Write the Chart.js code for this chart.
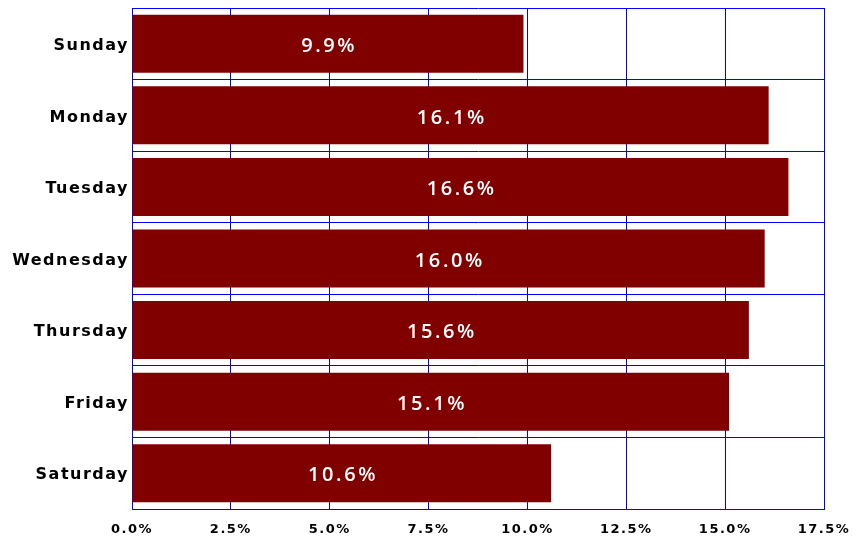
<!DOCTYPE html>
<html>
<head>
<meta charset="utf-8">
<script src="https://cdn.jsdelivr.net/npm/chart.js@4/dist/chart.umd.min.js"></script>
<style>
  html, body { margin: 0; padding: 0; background: #ffffff; }
  #wrap { width: 859px; height: 539px; }
</style>
</head>
<body>
<div id="wrap"><canvas id="c" width="859" height="539"></canvas></div>
<script>
const categories = ['Sunday', 'Monday', 'Tuesday', 'Wednesday', 'Thursday', 'Friday', 'Saturday'];
const shareValues = [9.9, 16.1, 16.6, 16.0, 15.6, 15.1, 10.6];
const xTickValues = [0, 2.5, 5, 7.5, 10, 12.5, 15, 17.5];

const AXIS_FONT = '"DejaVu Sans", sans-serif';
const VALUE_FONT = '"Open Sans", "DejaVu Sans", sans-serif';

const spacingPlugin = {
  id: 'spacing',
  beforeUpdate(chart) { chart.ctx.letterSpacing = '1.5px'; },
  beforeDraw(chart) { chart.ctx.letterSpacing = '1.5px'; }
};

const valueLabels = {
  id: 'valueLabels',
  afterDatasetsDraw(chart) {
    const ctx = chart.ctx;
    const meta = chart.getDatasetMeta(0);
    ctx.save();
    ctx.letterSpacing = '2.6px';
    ctx.fillStyle = '#ffffff';
    ctx.font = '600 20px ' + VALUE_FONT;
    ctx.textAlign = 'center';
    ctx.textBaseline = 'middle';
    meta.data.forEach((bar, i) => {
      const x0 = chart.scales.x.getPixelForValue(0);
      const cx = (x0 + bar.x) / 2;
      ctx.fillText(shareValues[i].toFixed(1) + '%', cx + 1.5, bar.y + 2.5);
    });
    ctx.restore();
  }
};

new Chart(document.getElementById('c'), {
  type: 'bar',
  data: {
    labels: categories,
    datasets: [{
      data: shareValues,
      backgroundColor: '#800000',
      borderWidth: 0,
      categoryPercentage: 0.9,
      barPercentage: 0.9
    }]
  },
  options: {
    indexAxis: 'y',
    responsive: false,
    animation: false,
    devicePixelRatio: 1,
    layout: { padding: { left: 0, right: 35, top: 8, bottom: 0 } },
    plugins: {
      legend: { display: false },
      tooltip: { enabled: false },
      title: { display: false }
    },
    scales: {
      x: {
        type: 'linear',
        min: 0,
        max: 17.5,
        afterBuildTicks(scale) { scale.ticks = xTickValues.map(v => ({ value: v })); },
        afterFit(scale) { scale.height = 30; },
        grid: { color: '#0000ff', lineWidth: 1, drawTicks: true, tickLength: 14, tickColor: 'rgba(0,0,0,0)' },
        border: { color: '#0000ff', width: 1 },
        ticks: {
          padding: 0,
          color: '#000000',
          font: { family: AXIS_FONT, size: 13, weight: 'bold', lineHeight: 1 },
          callback: v => v.toFixed(1) + '%',
          maxRotation: 0
        }
      },
      y: {
        afterFit(scale) { scale.width = 132; },
        grid: { color: '#0000ff', lineWidth: 1, drawTicks: true, tickLength: 3, tickColor: 'rgba(0,0,0,0)', offset: true },
        border: { color: '#0000ff', width: 1 },
        ticks: {
          padding: 0,
          labelOffset: 2,
          color: '#000000',
          font: { family: AXIS_FONT, size: 16, weight: 'bold', lineHeight: 1 }
        }
      }
    }
  },
  plugins: [spacingPlugin, valueLabels]
});
</script>
</body>
</html>
